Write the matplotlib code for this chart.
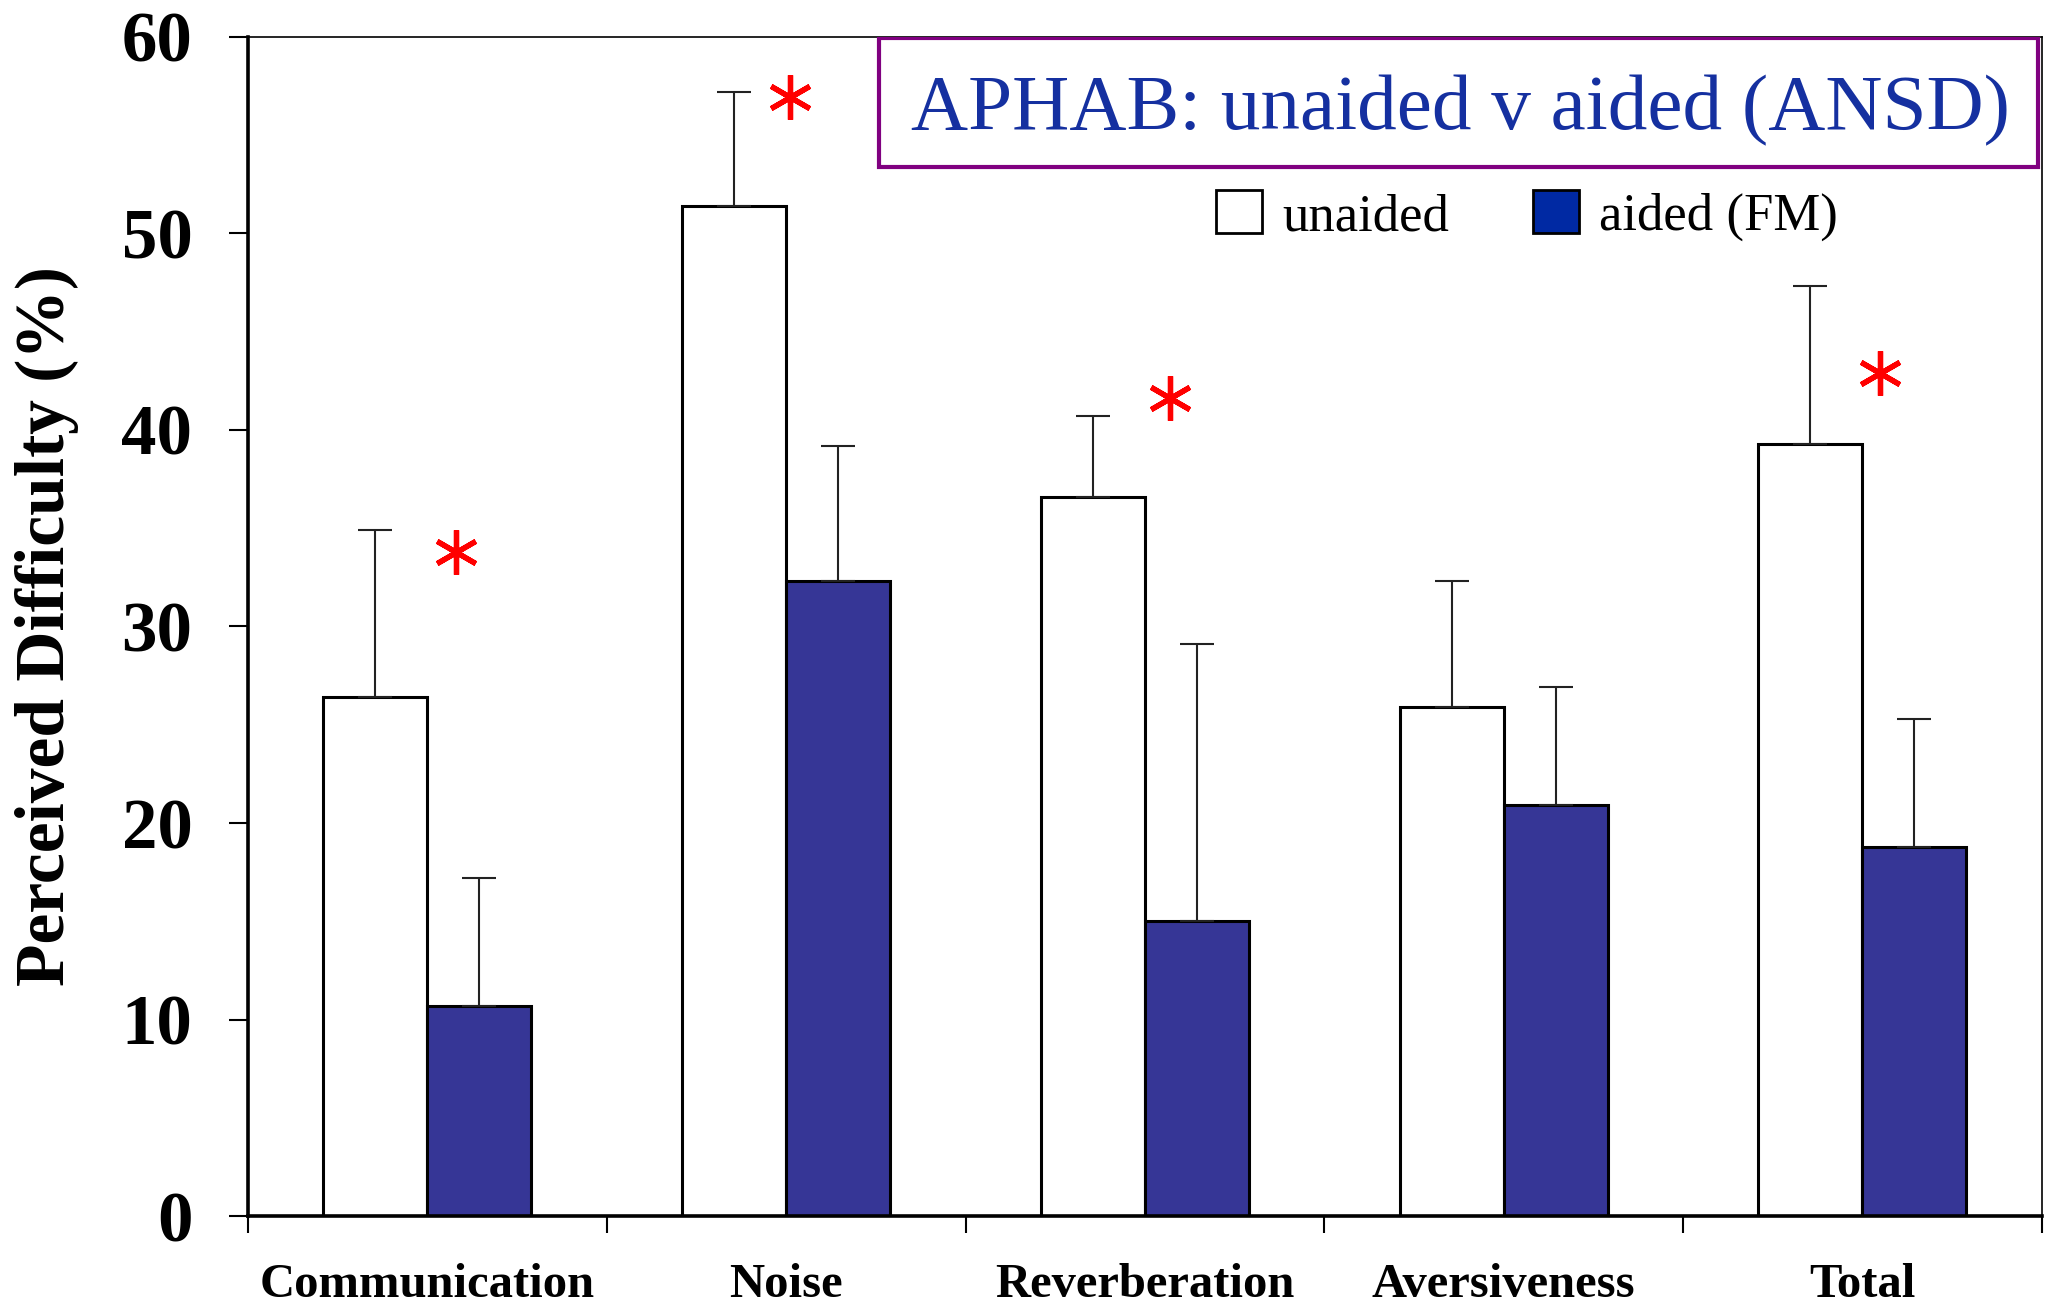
import numpy as np
import matplotlib
matplotlib.use('Agg')
import matplotlib.pyplot as plt
from matplotlib.patches import Patch, Rectangle

categories = ['Communication', 'Noise', 'Reverberation', 'Aversiveness', 'Total']
unaided = [26.4, 51.4, 36.6, 25.9, 39.3]
unaided_err = [8.5, 5.8, 4.1, 6.4, 8.0]
aided = [10.7, 32.3, 15.0, 20.9, 18.8]
aided_err = [6.5, 6.9, 14.1, 6.0, 6.5]
# significance markers: category index, height
star_idx = [0, 1, 2, 4]
star_y = [33.8, 56.9, 41.6, 42.9]
star_dx = [0.08, 0.01, 0.07, 0.05]

plt.rcParams['font.family'] = ['Liberation Serif', 'DejaVu Serif']

fig = plt.figure(figsize=(20.5, 13.05), dpi=100)
ax = fig.add_axes([0.121, 0.068, 0.875, 0.904])

x = np.arange(len(categories))
w = 0.29
ax.bar(x - w / 2, unaided, w, color='white', edgecolor='black', linewidth=2.2, zorder=2)
ax.bar(x + w / 2, aided, w, color='#363696', edgecolor='black', linewidth=2.2, zorder=2)
ax.errorbar(x - w / 2, unaided, yerr=[np.zeros(len(x)), unaided_err], fmt='none',
            ecolor='#222222', elinewidth=1.5, capsize=12, capthick=1.5, zorder=3)
ax.errorbar(x + w / 2, aided, yerr=[np.zeros(len(x)), aided_err], fmt='none',
            ecolor='#222222', elinewidth=1.5, capsize=12, capthick=1.5, zorder=3)

sx = np.array(star_idx) + np.array(star_dx)
ax.plot(sx, star_y, linestyle='none', marker=(6, 2, 0), markersize=32,
        markeredgewidth=3.8, color='red', zorder=4)

ax.set_xlim(-0.5, len(categories) - 0.5)
ax.set_ylim(0, 60)
ax.set_yticks(range(0, 61, 10))
ax.set_xticks(np.arange(-0.5, len(categories), 1.0))
ax.set_xticklabels([])
ax.set_xticks(x, minor=True)
ax.set_xticklabels(categories, minor=True, fontsize=35, fontweight='bold')
ax.tick_params(axis='x', which='minor', length=0, pad=34)
ax.tick_params(axis='x', which='major', direction='out', length=12, width=1.5)
ax.tick_params(axis='y', direction='out', length=14, width=1.5, pad=26, labelsize=51)
for lab in ax.get_yticklabels():
    lab.set_fontweight('bold')

ax.set_ylabel('Perceived Difficulty (%)', fontsize=50, fontweight='bold')
ax.yaxis.set_label_coords(-0.094, 0.5)

for s in ['left', 'bottom']:
    ax.spines[s].set_linewidth(2.6)
for s in ['top', 'right']:
    ax.spines[s].set_linewidth(1.2)

ax.add_patch(Rectangle((0.352, 0.889), 0.646, 0.110, transform=ax.transAxes,
                       facecolor='white', edgecolor='#800080', linewidth=3, zorder=5))
ax.text(0.676, 0.937, 'APHAB: unaided v aided (ANSD)', transform=ax.transAxes,
        fontsize=57, color='#1530a0', ha='center', va='center', zorder=6)

handles = [Patch(facecolor='white', edgecolor='black', linewidth=2),
           Patch(facecolor='#0029a3', edgecolor='black', linewidth=2)]
ax.legend(handles, ['unaided', 'aided (FM)'], ncol=2, loc='center left',
          bbox_to_anchor=(0.5396, 0.848), frameon=False, fontsize=38,
          handlelength=0.87, handleheight=0.87, handletextpad=0.38,
          columnspacing=1.6, borderpad=0, borderaxespad=0)

fig.savefig('out.png', dpi=100)
